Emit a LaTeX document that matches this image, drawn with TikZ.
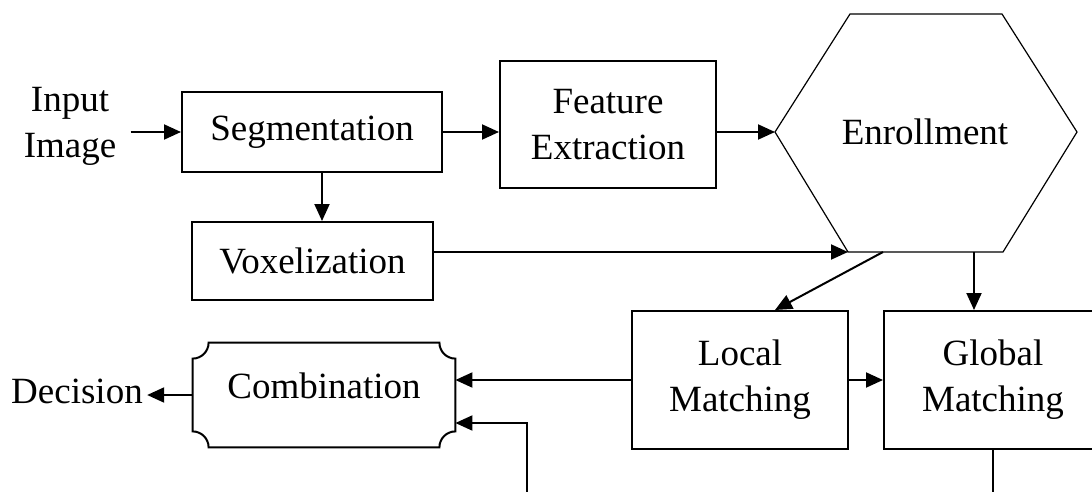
\documentclass[tikz,border=0pt]{standalone}
\usepackage{fontspec}
\setmainfont{Liberation Serif}
\usetikzlibrary{arrows.meta,positioning}
\tikzset{font=\fontsize{18.5}{23}\selectfont}
\tikzset{box/.style={draw,line width=1pt,inner sep=0pt,align=center}}
\tikzset{arr/.style={line width=1pt,-{Triangle[length=8.5pt,width=7.5pt]}}}

\begin{document}
\begin{tikzpicture}[x=0.5pt,y=-0.5pt]
  \useasboundingbox (0,0) rectangle (1092,492);
  \clip (0,0) rectangle (1092,492);
  % blocks
  \node[align=center,inner sep=7pt] (inp) at (70,126) {Input\\Image};
  \node[box,minimum width=130pt,minimum height=40pt] (seg) at (312,132) {Segmentation};
  \node[box,minimum width=108pt,minimum height=63.5pt] (feat) at (608,124.5) {Feature\\Extraction};
  \node[box,minimum width=120.5pt,minimum height=39pt] (vox) at (312.5,261) {Voxelization};
  \node[box,minimum width=108pt,minimum height=69pt] (local) at (740,380) {Local\\Matching};
  \node[box,minimum width=109pt,minimum height=69pt] (glob) at (993,380) {Global\\Matching};
  \node[minimum width=131pt,minimum height=52pt,inner sep=0pt] (comb) at (324,395) {};
  \node (combtxt) at (324,386) {Combination};
  \node[inner sep=2pt] (dec) at (77,391) {Decision};
  % enrollment hexagon
  \node (enr) at (925,132) {Enrollment};
  \coordinate (hexNW) at (850,14);
  \coordinate (hexNE) at (1002,14);
  \coordinate (hexE) at (1077,132);
  \coordinate (hexSE) at (1003,252);
  \coordinate (hexSW) at (848,252);
  \coordinate (hexW) at (775,132);
  \draw[line width=0.6pt] (hexNW) -- (hexNE) -- (hexE) -- (hexSE) -- (hexSW) -- (hexW) -- cycle;
  \coordinate (enrL) at (883,252);
  \coordinate (enrG) at (974,252);
  % combination outline, notched corners
  \draw[x=1pt,y=1pt,line width=1pt]
    ([xshift=8pt]comb.north west) -- ([xshift=-8pt]comb.north east)
    arc[start angle=180,end angle=270,radius=8pt]
    -- ([yshift=8pt]comb.south east)
    arc[start angle=90,end angle=180,radius=8pt]
    -- ([xshift=8pt]comb.south west)
    arc[start angle=0,end angle=90,radius=8pt]
    -- ([yshift=-8pt]comb.north west)
    arc[start angle=270,end angle=360,radius=8pt] -- cycle;
  % connectors
  \draw[arr] (inp.east |- seg.west) -- (seg.west);
  \draw[arr] (seg.east) -- (seg.east -| feat.west);
  \draw[arr] ([xshift=5pt]seg.south) -- ([xshift=5pt]seg.south |- vox.north);
  \draw[arr] (feat.east |- hexW) -- (hexW);
  \draw[arr] (vox.east |- hexSW) -- (hexSW);
  \draw[arr] (enrL) -- ([xshift=17.5pt]local.north);
  \draw[arr] (enrG) -- (enrG |- glob.north);
  \draw[arr] (local.east) -- (glob.west);
  \draw[arr] (local.west) -- (local.west -| comb.east);
  \coordinate (fb) at ([yshift=-14pt]comb.east);
  \coordinate (lowL) at (527,520);
  \draw[arr] (glob.south) -- (glob.south |- lowL) -- (lowL) -- (lowL |- fb) -- (fb);
  \draw[arr] (comb.west) -- (comb.west -| dec.east);
\end{tikzpicture}
\end{document}
